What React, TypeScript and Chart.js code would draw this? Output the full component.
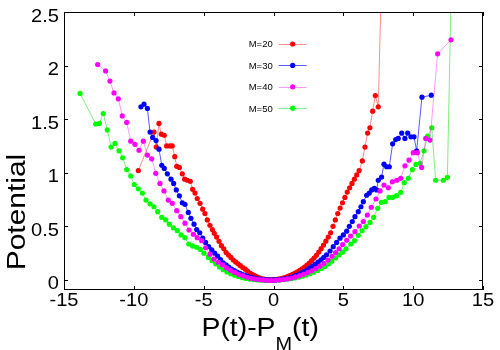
import React, { useEffect, useRef } from "react";
import { Chart, registerables } from "chart.js";

Chart.register(...registerables);

// ---------- data ----------
const seriesLabels = ["M=20", "M=30", "M=40", "M=50"];

const m20X = [-9.68, -8.56, -8.4, -8.2, -8.03, -7.82, -7.65, -7.41, -7.25, -7.07, -6.93, -6.74, -6.53, -6.36, -6.17, -5.96, -5.79, -5.62, -5.46, -5.26, -5.07, -4.91, -4.74, -4.55, -4.38, -4.24, -4.07, -3.9, -3.73, -3.56, -3.39, -3.22, -3.05, -2.88, -2.71, -2.54, -2.37, -2.2, -2.03, -1.86, -1.69, -1.52, -1.35, -1.18, -1.01, -0.84, -0.67, -0.5, -0.33, -0.16, 0.01, 0.18, 0.35, 0.52, 0.69, 0.86, 1.03, 1.2, 1.37, 1.54, 1.71, 1.88, 2.05, 2.22, 2.39, 2.56, 2.73, 2.9, 3.07, 3.24, 3.41, 3.58, 3.75, 3.92, 4.09, 4.26, 4.43, 4.6, 4.77, 4.94, 5.11, 5.28, 5.45, 5.62, 5.79, 5.96, 6.13, 6.36, 6.55, 6.74, 6.9, 7.1, 7.29, 7.5, 7.77];
const m20Y = [1.02, 1.38, 1.24, 1.46, 1.36, 1.35, 1.25, 1.25, 1.25, 1.15, 1.06, 1.05, 0.99, 0.94, 0.93, 0.92, 0.845, 0.81, 0.76, 0.715, 0.66, 0.62, 0.56, 0.51, 0.47, 0.435, 0.4, 0.36, 0.32, 0.29, 0.255, 0.232, 0.21, 0.186, 0.168, 0.15, 0.133, 0.116, 0.1, 0.082, 0.064, 0.052, 0.04, 0.029, 0.019, 0.012, 0.007, 0.004, 0.002, 0.001, 0.002, 0.004, 0.008, 0.012, 0.018, 0.025, 0.033, 0.043, 0.053, 0.064, 0.076, 0.09, 0.104, 0.12, 0.138, 0.158, 0.18, 0.204, 0.23, 0.26, 0.292, 0.326, 0.362, 0.4, 0.44, 0.5, 0.56, 0.62, 0.67, 0.72, 0.77, 0.82, 0.86, 0.9, 0.94, 0.98, 1.02, 1.11, 1.24, 1.37, 1.42, 1.575, 1.72, 1.615, 3.0];

const m30X = [-9.49, -9.27, -9.03, -8.84, -8.65, -8.41, -8.2, -8.0, -7.82, -7.6, -7.34, -7.15, -6.96, -6.74, -6.53, -6.34, -6.1, -5.91, -5.69, -5.5, -5.28, -5.07, -4.86, -4.64, -4.42, -4.21, -4.0, -3.8, -3.6, -3.4, -3.2, -3.0, -2.8, -2.6, -2.4, -2.2, -2.0, -1.8, -1.6, -1.4, -1.2, -1.0, -0.8, -0.6, -0.4, -0.2, 0.0, 0.2, 0.4, 0.6, 0.8, 1.0, 1.2, 1.4, 1.6, 1.8, 2.0, 2.2, 2.4, 2.6, 2.8, 3.0, 3.2, 3.4, 3.6, 3.8, 4.05, 4.28, 4.52, 4.76, 5.0, 5.24, 5.43, 5.64, 5.83, 6.07, 6.26, 6.43, 6.67, 6.86, 7.03, 7.22, 7.38, 7.5, 7.74, 7.91, 8.1, 8.29, 8.53, 8.75, 8.93, 9.18, 9.41, 9.61, 9.84, 10.06, 10.25, 10.63, 11.3];
const m30Y = [1.615, 1.64, 1.6, 1.38, 1.33, 1.3, 1.22, 1.07, 1.04, 0.99, 0.94, 0.9, 0.84, 0.785, 0.72, 0.705, 0.63, 0.575, 0.52, 0.47, 0.44, 0.39, 0.35, 0.31, 0.28, 0.25, 0.222, 0.19, 0.16, 0.14, 0.12, 0.102, 0.088, 0.074, 0.062, 0.05, 0.04, 0.032, 0.024, 0.017, 0.011, 0.007, 0.004, 0.002, 0.001, 0.0, 0.0, 0.001, 0.003, 0.006, 0.01, 0.015, 0.022, 0.03, 0.04, 0.051, 0.064, 0.078, 0.094, 0.11, 0.128, 0.147, 0.167, 0.188, 0.21, 0.235, 0.27, 0.31, 0.35, 0.39, 0.42, 0.455, 0.5, 0.545, 0.59, 0.637, 0.683, 0.73, 0.79, 0.81, 0.84, 0.855, 0.84, 0.93, 0.96, 1.08, 1.056, 1.056, 1.27, 1.31, 1.32, 1.37, 1.32, 1.37, 1.335, 1.335, 1.205, 1.705, 1.724];

const m40X = [-12.59, -12.02, -11.71, -11.42, -11.11, -10.83, -10.51, -10.22, -9.92, -9.63, -9.32, -9.03, -8.72, -8.43, -8.13, -7.84, -7.53, -7.25, -6.93, -6.64, -6.34, -6.05, -5.74, -5.46, -5.14, -4.86, -4.55, -4.26, -3.95, -3.65, -3.37, -3.08, -2.78, -2.49, -2.2, -1.9, -1.61, -1.32, -1.03, -0.74, -0.45, -0.16, 0.13, 0.42, 0.71, 1.0, 1.29, 1.58, 1.87, 2.16, 2.45, 2.74, 3.03, 3.32, 3.61, 3.9, 4.19, 4.45, 4.7, 4.95, 5.24, 5.52, 5.83, 6.14, 6.43, 6.72, 7.0, 7.34, 7.63, 7.91, 8.22, 8.51, 8.82, 9.11, 9.41, 9.7, 10.01, 10.3, 10.61, 10.9, 11.2, 11.75, 12.71];
const m40Y = [2.01, 1.95, 1.855, 1.745, 1.69, 1.53, 1.47, 1.295, 1.265, 1.21, 1.295, 1.165, 1.13, 0.995, 0.9, 0.83, 0.745, 0.715, 0.646, 0.59, 0.53, 0.466, 0.426, 0.394, 0.366, 0.3, 0.24, 0.195, 0.165, 0.14, 0.112, 0.09, 0.07, 0.052, 0.038, 0.025, 0.015, 0.008, 0.003, 0.0, -0.004, -0.005, -0.003, 0.0, 0.004, 0.01, 0.018, 0.028, 0.04, 0.053, 0.068, 0.085, 0.105, 0.128, 0.153, 0.185, 0.22, 0.255, 0.29, 0.33, 0.37, 0.41, 0.45, 0.503, 0.545, 0.606, 0.678, 0.755, 0.83, 0.885, 0.86, 0.916, 0.93, 0.948, 1.065, 1.118, 1.187, 1.187, 1.05, 1.32, 1.305, 2.11, 2.24];

const m50X = [-13.85, -12.73, -12.47, -12.19, -11.9, -11.63, -11.35, -11.06, -10.8, -10.51, -10.22, -9.97, -9.68, -9.39, -9.13, -8.84, -8.56, -8.29, -8.0, -7.72, -7.46, -7.17, -6.89, -6.62, -6.34, -6.07, -5.79, -5.5, -5.24, -4.98, -4.67, -4.4, -4.14, -3.87, -3.6, -3.33, -3.06, -2.79, -2.52, -2.25, -1.98, -1.71, -1.44, -1.17, -0.9, -0.63, -0.36, -0.09, 0.18, 0.45, 0.72, 0.99, 1.26, 1.53, 1.8, 2.07, 2.34, 2.61, 2.88, 3.15, 3.42, 3.69, 3.96, 4.17, 4.45, 4.71, 4.95, 5.19, 5.53, 5.79, 6.07, 6.34, 6.62, 6.91, 7.17, 7.46, 7.72, 8.0, 8.27, 8.53, 8.82, 9.11, 9.36, 9.65, 9.94, 10.2, 10.49, 10.78, 11.04, 11.33, 11.61, 12.16, 12.45, 12.8];
const m50Y = [1.74, 1.455, 1.46, 1.553, 1.4, 1.24, 1.274, 1.205, 1.14, 1.03, 0.97, 0.89, 0.85, 0.81, 0.745, 0.71, 0.683, 0.637, 0.584, 0.56, 0.52, 0.487, 0.46, 0.42, 0.394, 0.335, 0.317, 0.305, 0.285, 0.25, 0.21, 0.18, 0.15, 0.12, 0.095, 0.075, 0.058, 0.044, 0.032, 0.022, 0.014, 0.008, 0.003, 0.0, -0.003, -0.005, -0.005, -0.004, -0.002, 0.0, 0.003, 0.007, 0.012, 0.018, 0.026, 0.035, 0.046, 0.058, 0.072, 0.088, 0.106, 0.126, 0.15, 0.175, 0.205, 0.235, 0.26, 0.29, 0.335, 0.366, 0.416, 0.46, 0.497, 0.537, 0.584, 0.668, 0.724, 0.73, 0.77, 0.77, 0.786, 0.817, 0.907, 0.948, 1.03, 1.078, 1.088, 1.205, 1.342, 1.42, 0.93, 0.93, 0.957, 3.2];

const xTickValues = [-15, -10, -5, 0, 5, 10, 15];
const yTickValues = [0, 0.5, 1, 1.5, 2, 2.5];
const yTickLabels = ["0", "0.5", "1", "1.5", "2", "2.5"];

const pointColors = ["#ff0000", "#0000ff", "#ff00ff", "#00ff00"];
const lineColors = ["rgba(255,0,0,0.45)", "rgba(0,0,255,0.65)", "rgba(255,0,255,0.4)", "rgba(0,220,0,0.5)"];
const drawOrder = [2, 1, 0, 3];

const FONT = '"Liberation Sans", Arial, Helvetica, sans-serif';

function stretchedText(ctx: CanvasRenderingContext2D, text: string, x: number, y: number, align: "left" | "right" | "center", sx: number) {
  const w = ctx.measureText(text).width * sx;
  let left = x;
  if (align === "right") left = x - w;
  else if (align === "center") left = x - w / 2;
  ctx.save();
  ctx.translate(left, y);
  ctx.scale(sx, 1);
  ctx.textAlign = "left";
  ctx.fillText(text, 0, 0);
  ctx.restore();
  return w;
}

const framePlugin = {
  id: "gnuFrame",
  afterDatasetsDraw(chart: any) {
    const ctx: CanvasRenderingContext2D = chart.ctx;
    const { left, right, top, bottom } = chart.chartArea;
    const xs = chart.scales.x;
    const ys = chart.scales.y;
    ctx.save();
    ctx.strokeStyle = "#000";
    ctx.lineWidth = 1;
    ctx.strokeRect(left + 0.5, top + 0.5, right - left - 1, bottom - top - 1);
    ctx.beginPath();
    const tl = 4;
    xTickValues.forEach((v) => {
      const px = Math.round(xs.getPixelForValue(v)) + 0.5;
      ctx.moveTo(px, bottom);
      ctx.lineTo(px, bottom - tl);
      ctx.moveTo(px, top);
      ctx.lineTo(px, top + tl);
    });
    yTickValues.forEach((v) => {
      const py = Math.round(ys.getPixelForValue(v)) + 0.5;
      ctx.moveTo(left, py);
      ctx.lineTo(left + tl, py);
      ctx.moveTo(right, py);
      ctx.lineTo(right - tl, py);
    });
    ctx.stroke();

    // tick labels
    ctx.fillStyle = "#000";
    ctx.textBaseline = "alphabetic";
    ctx.font = `18.6px ${FONT}`;
    xTickValues.forEach((v) => {
      const px = xs.getPixelForValue(v);
      stretchedText(ctx, String(v), px, bottom + 16, "center", 1.08);
    });
    yTickValues.forEach((v, i) => {
      const py = ys.getPixelForValue(v);
      stretchedText(ctx, yTickLabels[i], left - 5, py + 9.5, "right", 1.08);
    });

    // y title
    ctx.font = `26.5px ${FONT}`;
    ctx.save();
    ctx.translate(25, 212);
    ctx.rotate(-Math.PI / 2);
    stretchedText(ctx, "Potential", 0, 0, "center", 1.13);
    ctx.restore();

    // x title  P(t)-P_M(t)
    let x0 = 201.5;
    const base = 335.5;
    ctx.font = `26.5px ${FONT}`;
    x0 += stretchedText(ctx, "P(t)-P", x0, base, "left", 1.07);
    ctx.font = `18.6px ${FONT}`;
    x0 += stretchedText(ctx, "M", x0, base + 14, "left", 1.07);
    ctx.font = `26.5px ${FONT}`;
    stretchedText(ctx, "(t)", x0, base, "left", 1.07);

    // legend
    ctx.font = `9.5px ${FONT}`;
    chart.data.datasets.forEach((ds: any, i: number) => {
      const cy = 44 + i * 21.4;
      ctx.fillStyle = "#000";
      stretchedText(ctx, ds.label, 272.7, cy + 3.4, "right", 1.0);
      ctx.beginPath();
      ctx.strokeStyle = lineColors[i];
      ctx.lineWidth = 1;
      ctx.moveTo(278.7, Math.round(cy) + 0.5);
      ctx.lineTo(306.7, Math.round(cy) + 0.5);
      ctx.stroke();
      ctx.beginPath();
      ctx.fillStyle = pointColors[i];
      ctx.arc(292.7, cy, 2.6, 0, Math.PI * 2);
      ctx.fill();
    });
    ctx.restore();
  },
};

function toPoints(xs: number[], ys: number[]) {
  return xs.map((x, i) => ({ x, y: ys[i] }));
}

export default function App() {
  const canvasRef = useRef<HTMLCanvasElement | null>(null);

  useEffect(() => {
    document.body.style.margin = "0";
    const canvas = canvasRef.current;
    if (!canvas) return;
    const allX = [m20X, m30X, m40X, m50X];
    const allY = [m20Y, m30Y, m40Y, m50Y];
    const chart = new Chart(canvas, {
      type: "line",
      data: {
        datasets: seriesLabels.map((label, i) => ({
          label,
          data: toPoints(allX[i], allY[i]),
          borderColor: lineColors[i],
          backgroundColor: pointColors[i],
          pointBackgroundColor: pointColors[i],
          pointBorderWidth: 0,
          pointRadius: 2.6,
          borderWidth: 1,
          tension: 0,
          fill: false,
          order: drawOrder[i],
        })),
      },
      options: {
        animation: false,
        responsive: false,
        devicePixelRatio: 1,
        parsing: true,
        layout: { padding: { left: 64, top: 12, right: 17, bottom: 60 } },
        plugins: { legend: { display: false }, tooltip: { enabled: false } },
        scales: {
          x: { type: "linear", min: -15, max: 15, display: false },
          y: { type: "linear", min: -0.094, max: 2.5, display: false },
        },
      },
      plugins: [framePlugin],
    });
    return () => chart.destroy();
  }, []);

  return (
    <div style={{ width: 500, height: 350, background: "#fff" }}>
      <canvas ref={canvasRef} width={500} height={350} style={{ display: "block" }} />
    </div>
  );
}
